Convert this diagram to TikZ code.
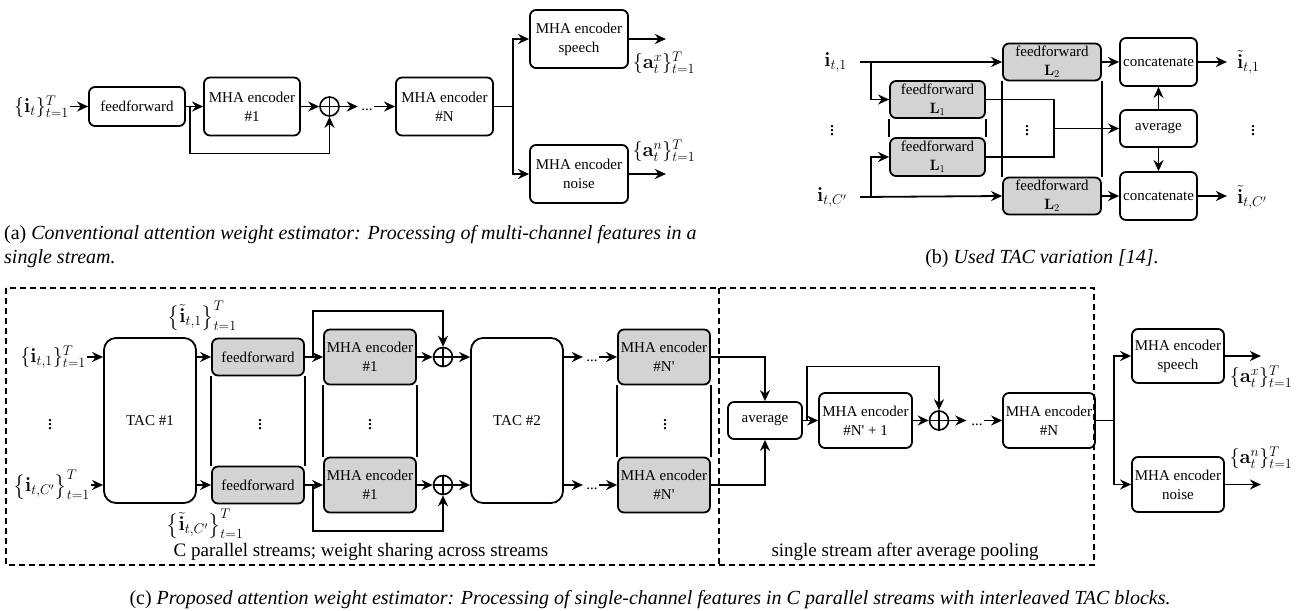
\RequirePackage{fix-cm}
\documentclass[tikz,border=0pt]{standalone}
\usepackage{amsmath}
\usepackage[no-math]{fontspec}
\setmainfont{Liberation Serif}
\newfontfamily\rawserif{Liberation Serif}
\usetikzlibrary{arrows.meta,calc}
\definecolor{boxgray}{RGB}{211,211,211}
\newcommand{\fsz}{\fontsize{15}{19}\selectfont}
\newcommand{\msz}{\fontsize{20}{24}\selectfont}
\newcommand{\capsz}{\fontsize{20}{24}\selectfont}
\newcommand{\apo}{{\rawserif\char"0027}}
\begin{document}
\begin{tikzpicture}[x=1pt,y=-1pt,
  ln/.style={line width=1.8pt},
  arr/.style={line width=1.8pt,-{Stealth[length=11pt,width=10pt]}},
  blk/.style={draw,line width=1.8pt,rounded corners=6pt,align=center,inner sep=0pt,font=\fsz},
  gblk/.style={blk,fill=boxgray},
  tacb/.style={blk,rounded corners=12pt},
  sumn/.style={circle,draw,line width=1.6pt,minimum size=19pt,inner sep=0pt},
  dotn/.style={inner sep=1pt,font=\fsz},
  lab/.style={inner sep=1pt,font=\msz},
  dashln/.style={line width=1.6pt,dash pattern=on 6pt off 4pt}
]
\useasboundingbox (0,0) rectangle (1300,610);

% ---------------- (a) ----------------
\node[blk,minimum width=96pt,minimum height=39pt] (ffa) at (137,106.5) {feedforward};
\node[blk,minimum width=96pt,minimum height=58pt] (mha1a) at (252,106.5) {MHA encoder\\\#1};
\node[sumn] (opa) at (329.5,106.5) {};
\draw[line width=1.6pt] (opa.north) -- (opa.south) (opa.west) -- (opa.east);
\node[dotn] (dta) at (367,110) {...};
\node[blk,minimum width=97pt,minimum height=58pt] (mhaNa) at (444.5,106.5) {MHA encoder\\\#N};
\node[blk,minimum width=98pt,minimum height=58pt] (spa) at (579,39) {MHA encoder\\speech};
\node[blk,minimum width=98pt,minimum height=58pt] (noa) at (579,174) {MHA encoder\\noise};
\node[lab,anchor=east] (ina) at (70,106.5) {$\{\mathbf{i}_t\}_{t=1}^T$};
\node[lab] (axa) at (664,63) {$\{\mathbf{a}^x_t\}_{t=1}^T$};
\node[lab] (ana) at (664,151) {$\{\mathbf{a}^n_t\}_{t=1}^T$};

\draw[arr] (ina.east |- ffa) -- (ffa.west);
\draw[arr] (ffa.east) -- (mha1a.west);
\draw[arr] ($(ffa.east)+(4,0)$) -- ++(0,47) -| (opa.south);
\draw[arr] (mha1a.east) -- (opa.west);
\draw[arr] (opa.east) -- ++(18,0);
\draw[arr] (dta.east |- mhaNa) -- (mhaNa.west);
\draw[ln] (mhaNa.east) -- ++(19,0) coordinate (bra);
\draw[arr] (bra) |- (spa.west);
\draw[arr] (bra) |- (noa.west);
\draw[arr] (spa.east) -- ++(37,0);
\draw[arr] (noa.east) -- ++(37,0);

\node[anchor=base west,inner sep=0pt,font=\capsz] (capa1) at (4,239) {(a) \textit{Conventional attention weight estimator: Processing of multi-channel features in a}};
\node[anchor=base west,inner sep=0pt,font=\capsz] (capa2) at (4,263) {\textit{single stream.}};

% ---------------- (b) ----------------
\node[lab,anchor=east] (in1b) at (848,62) {$\mathbf{i}_{t,1}$};
\node[lab,anchor=east] (inCb) at (848,197) {$\mathbf{i}_{t,C'}$};
\coordinate (s1b) at (860,62);
\coordinate (s2b) at (860,197);
\coordinate (br1b) at (871,62);
\coordinate (br2b) at (871,197);
\node[gblk,minimum width=95pt,minimum height=37pt] (L1a) at (937.5,99.5) {feedforward\\$\mathbf{L}_1$};
\node[gblk,minimum width=95pt,minimum height=38pt] (L1b) at (937.5,157) {feedforward\\$\mathbf{L}_1$};
\node[gblk,minimum width=98pt,minimum height=37pt] (L2a) at (1052,62) {feedforward\\$\mathbf{L}_2$};
\node[gblk,minimum width=98pt,minimum height=37pt] (L2b) at (1052,196) {feedforward\\$\mathbf{L}_2$};
\node[blk,minimum width=77pt,minimum height=48pt] (cc1) at (1158.5,62) {concatenate};
\node[blk,minimum width=77pt,minimum height=37pt] (avgb) at (1158.5,128.5) {average};
\node[blk,minimum width=77pt,minimum height=48pt] (cc2) at (1158.5,196) {concatenate};
\node[lab,anchor=west] (o1b) at (1236,62) {$\tilde{\mathbf{i}}_{t,1}$};
\node[lab,anchor=west] (oCb) at (1236,197) {$\tilde{\mathbf{i}}_{t,C'}$};
\node[lab] (vb1) at (832,128) {$\vdots$};
\node[lab] (vb2) at (1027,128) {$\vdots$};
\node[lab] (vb3) at (1253,128) {$\vdots$};

\draw[ln] (L1a.south west) -- (L1b.north west) (L1a.south east) -- (L1b.north east);
\draw[ln] (L2a.south west) -- (L2b.north west) (L2a.south east) -- (L2b.north east);
\draw[arr] (s1b) -- (L2a.west);
\draw[arr] (s2b) -- (L2b.west);
\draw[arr] (br1b) |- (L1a.west);
\draw[arr] (br2b) |- (L1b.west);
\draw[ln] (L1a.east) -- ++(68,0) coordinate (jb) -- (jb |- L1b.east) -- (L1b.east);
\draw[arr] (jb |- avgb) -- (avgb.west);
\draw[arr] (L2a.east) -- (cc1.west);
\draw[arr] (L2b.east) -- (cc2.west);
\draw[arr] (avgb.north) -- (cc1.south);
\draw[arr] (avgb.south) -- (cc2.north);
\draw[arr] (cc1.east) -- ++(29,0);
\draw[arr] (cc2.east) -- ++(29,0);

\node[anchor=base,inner sep=0pt,font=\capsz] (capb) at (1042,263) {(b) \textit{Used TAC variation [14].}};

% ---------------- (c) ----------------
\draw[dashln] (6,288) rectangle (1094,565);
\draw[dashln] (719,288) -- (719,565);

\node[lab,anchor=east] (inc1) at (87,357) {$\{\mathbf{i}_{t,1}\}_{t=1}^T$};
\node[lab,anchor=east] (inc2) at (91,485) {$\bigl\{\mathbf{i}_{t,C'}\bigr\}_{t=1}^T$};
\node[lab] (vc0) at (50,422) {$\vdots$};
\node[tacb,minimum width=92pt,minimum height=165pt] (tac1) at (150,420.5) {TAC \#1};
\node[gblk,minimum width=92pt,minimum height=37pt] (ffc1) at (258,357) {feedforward};
\node[gblk,minimum width=92pt,minimum height=37pt] (ffc2) at (258,485) {feedforward};
\node[lab] (vc1) at (260,422) {$\vdots$};
\node[gblk,minimum width=92pt,minimum height=55pt] (mhc1) at (370,357) {MHA encoder\\\#1};
\node[gblk,minimum width=92pt,minimum height=55pt] (mhc2) at (370,485) {MHA encoder\\\#1};
\node[lab] (vc2) at (370,422) {$\vdots$};
\node[sumn] (opc1) at (443,357) {};
\node[sumn] (opc2) at (443,485) {};
\draw[line width=1.6pt] (opc1.north) -- (opc1.south) (opc1.west) -- (opc1.east);
\draw[line width=1.6pt] (opc2.north) -- (opc2.south) (opc2.west) -- (opc2.east);
\node[tacb,minimum width=92pt,minimum height=165pt] (tac2) at (517,420.5) {TAC \#2};
\node[dotn] (dc1) at (592,361) {...};
\node[dotn] (dc2) at (592,489) {...};
\node[gblk,minimum width=92pt,minimum height=55pt] (mn1) at (664,357) {MHA encoder\\\#N\apo};
\node[gblk,minimum width=92pt,minimum height=55pt] (mn2) at (664,485) {MHA encoder\\\#N\apo};
\node[lab] (vc3) at (665,422) {$\vdots$};
\node[lab] (tl1) at (202,316) {$\bigl\{\tilde{\mathbf{i}}_{t,1}\bigr\}_{t=1}^T$};
\node[lab] (tl2) at (205,524) {$\bigl\{\tilde{\mathbf{i}}_{t,C'}\bigr\}_{t=1}^T$};

\draw[ln] (ffc1.south west) -- (ffc2.north west) (ffc1.south east) -- (ffc2.north east);
\draw[ln] (mhc1.south west) -- (mhc2.north west) (mhc1.south east) -- (mhc2.north east);
\draw[ln] (mn1.south west) -- (mn2.north west) (mn1.south east) -- (mn2.north east);

\draw[arr] (inc1.east |- ffc1) -- (ffc1 -| tac1.west);
\draw[arr] (inc2.east |- ffc2) -- (ffc2 -| tac1.west);
\draw[arr] (ffc1 -| tac1.east) -- (ffc1.west);
\draw[arr] (ffc2 -| tac1.east) -- (ffc2.west);
\draw[arr] (ffc1.east) -- (mhc1.west);
\draw[arr] (ffc2.east) -- (mhc2.west);
\draw[arr] ($(ffc1.east)+(8,0)$) -- ++(0,-46) -| (opc1.north);
\draw[arr] ($(ffc2.east)+(8,0)$) -- ++(0,46) -| (opc2.south);
\draw[arr] (mhc1.east) -- (opc1.west);
\draw[arr] (mhc2.east) -- (opc2.west);
\draw[arr] (opc1.east) -- (opc1 -| tac2.west);
\draw[arr] (opc2.east) -- (opc2 -| tac2.west);
\draw[arr] (mn1 -| tac2.east) -- ++(19,0);
\draw[arr] (mn2 -| tac2.east) -- ++(19,0);
\draw[arr] (dc1.east |- mn1) -- (mn1.west);
\draw[arr] (dc2.east |- mn2) -- (mn2.west);

\node[blk,minimum width=74pt,minimum height=37pt] (avgc) at (765,420.5) {average};
\node[blk,minimum width=93pt,minimum height=55pt] (mP) at (865.5,420.5) {MHA encoder\\\#N\apo{} + 1};
\node[sumn] (opc3) at (939,420.5) {};
\draw[line width=1.6pt] (opc3.north) -- (opc3.south) (opc3.west) -- (opc3.east);
\node[dotn] (dc3) at (977,424.5) {...};
\node[blk,minimum width=92pt,minimum height=55pt] (mN) at (1049,420.5) {MHA encoder\\\#N};
\node[blk,minimum width=92pt,minimum height=54pt] (spc) at (1178,356) {MHA encoder\\speech};
\node[blk,minimum width=92pt,minimum height=55pt] (noc) at (1178,484.5) {MHA encoder\\noise};
\node[lab] (axc) at (1261,377) {$\{\mathbf{a}^x_t\}_{t=1}^T$};
\node[lab] (anc) at (1261,458) {$\{\mathbf{a}^n_t\}_{t=1}^T$};

\draw[arr] (mn1.east) -| (avgc.north);
\draw[arr] (mn2.east) -| (avgc.south);
\draw[arr] (avgc.east) -- (mP.west);
\draw[arr] ($(avgc.east)+(4,0)$) -- ++(0,-54) -| (opc3.north);
\draw[arr] (mP.east) -- (opc3.west);
\draw[arr] (opc3.east) -- ++(17,0);
\draw[arr] (dc3.east |- mN) -- (mN.west);
\draw[ln] (mN.east) -- ++(18,0) coordinate (brc);
\draw[arr] (brc) |- (spc.west);
\draw[arr] (brc) |- (noc.west);
\draw[arr] (spc.east) -- ++(36,0);
\draw[arr] (noc.east) -- ++(36,0);

\node[font=\fontsize{19}{22}\selectfont,inner sep=0pt] (t1) at (361,552) {C parallel streams; weight sharing across streams};
\node[font=\fontsize{19}{22}\selectfont,inner sep=0pt] (t2) at (905,552) {single stream after average pooling};

\node[anchor=base,inner sep=0pt,font=\capsz] (capc) at (650,604) {(c) \textit{Proposed attention weight estimator: Processing of single-channel features in C parallel streams with interleaved TAC blocks.}};
\end{tikzpicture}
\end{document}
